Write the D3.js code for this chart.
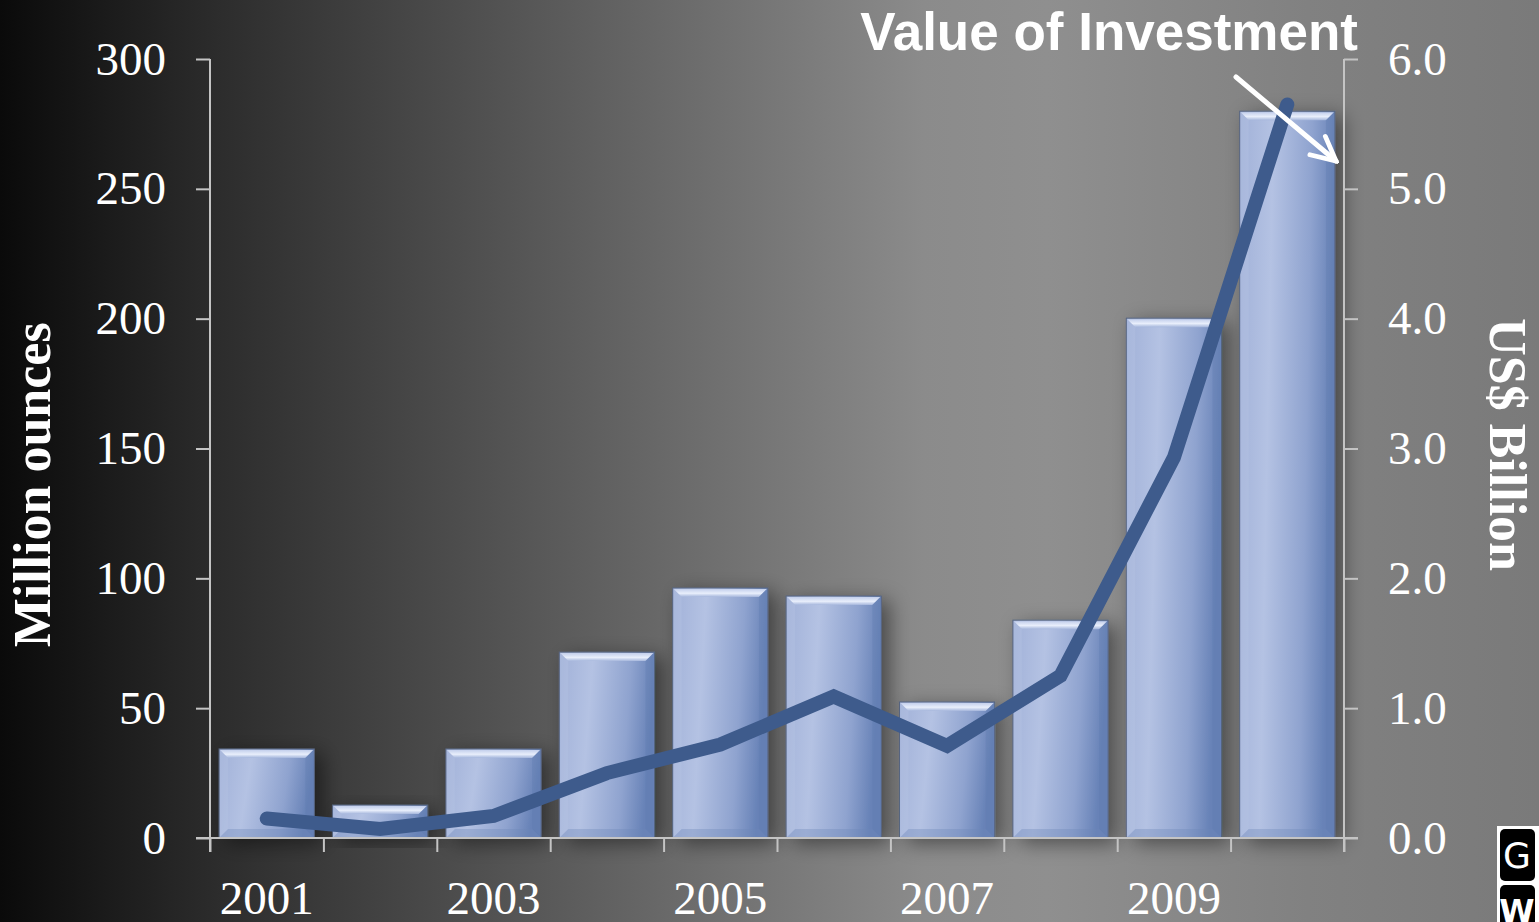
<!DOCTYPE html>
<html>
<head>
<meta charset="utf-8">
<script src="https://cdn.jsdelivr.net/npm/d3@7"></script>
<style>
  html, body { margin: 0; padding: 0; background: #555; }
  svg { display: block; }
</style>
</head>
<body>
<div id="chart"></div>
<script>
// chart data
const years = ["2001", "2002", "2003", "2004", "2005", "2006", "2007", "2008", "2009", "2010"];
const ounces = [34.3, 12.7, 34.3, 71.6, 96.3, 93.2, 52.4, 83.9, 200.2, 279.9];   // million ounces (bars)
const valueBn = [0.15, 0.07, 0.17, 0.50, 0.72, 1.09, 0.71, 1.25, 2.93, 5.65];   // US$ billion (line)
const leftTicks = [0, 50, 100, 150, 200, 250, 300];
const rightTicks = [0, 1, 2, 3, 4, 5, 6];
const yearLabels = ["2001", "2003", "2005", "2007", "2009"];

const width = 1539;
const height = 922;
const margin = { top: 59, right: 195, bottom: 84, left: 210 };

const svg = d3.select("#chart")
  .append("svg")
  .attr("width", width)
  .attr("height", height);

const defs = svg.append("defs");

// background gradient, dark on the left, grey on the right
const bg = defs.append("linearGradient").attr("id", "bg");
[[0, "#0a0a0a"], [0.07, "#1b1b1b"], [0.14, "#2c2c2c"], [0.35, "#585858"], [0.6, "#8b8b8b"],
 [0.68, "#8f8f8f"], [0.85, "#818181"], [1, "#7a7a7a"]].forEach(function(s) {
  bg.append("stop").attr("offset", s[0]).attr("stop-color", s[1]);
});

// bar body gradient
const barGrad = defs.append("linearGradient").attr("id", "barGrad")
  .attr("x1", 0).attr("y1", 0).attr("x2", 1).attr("y2", 0.15);
[[0, "#a1b1d8"], [0.35, "#b4c2e3"], [0.75, "#8fa3cf"], [1, "#6782b7"]].forEach(function(s) {
  barGrad.append("stop").attr("offset", s[0]).attr("stop-color", s[1]);
});

const topGrad = defs.append("linearGradient").attr("id", "topGrad")
  .attr("x1", 0).attr("y1", 0).attr("x2", 0).attr("y2", 1);
topGrad.append("stop").attr("offset", 0).attr("stop-color", "#c3cfec");
topGrad.append("stop").attr("offset", 0.55).attr("stop-color", "#e8eefb");
topGrad.append("stop").attr("offset", 1).attr("stop-color", "#a5b6dc");

// drop shadow behind the bars
const shadow = defs.append("filter").attr("id", "shadow")
  .attr("x", "-30%").attr("y", "-30%").attr("width", "160%").attr("height", "160%");
shadow.append("feDropShadow")
  .attr("dx", 8).attr("dy", 5)
  .attr("stdDeviation", 10)
  .attr("flood-color", "#000")
  .attr("flood-opacity", 0.45);

// arrow head for the annotation
defs.append("marker")
  .attr("id", "arrow")
  .attr("viewBox", "0 0 10 10")
  .attr("refX", 9).attr("refY", 5)
  .attr("markerWidth", 6).attr("markerHeight", 6)
  .attr("markerUnits", "strokeWidth")
  .attr("orient", "auto")
  .append("path")
  .attr("d", "M1,1 L9,5 L1,9")
  .attr("fill", "none")
  .attr("stroke", "white")
  .attr("stroke-width", 1.6)
  .attr("stroke-linecap", "round");

svg.append("rect")
  .attr("width", width)
  .attr("height", height)
  .attr("fill", "url(#bg)");

// scales
const x = d3.scaleBand()
  .domain(years)
  .range([margin.left, width - margin.right])
  .paddingInner(0.16)
  .paddingOuter(0.08);

const xEdge = d3.scaleLinear()
  .domain([0, years.length])
  .range([margin.left, width - margin.right]);

const yLeft = d3.scaleLinear()
  .domain([0, 300])
  .range([height - margin.bottom, margin.top]);

const yRight = d3.scaleLinear()
  .domain([0, 6])
  .range([height - margin.bottom, margin.top]);

const tickLen = 14;
const axisColor = "#c4c4c4";
const serif = "'Liberation Serif', 'DejaVu Serif', serif";

// bars
const bw = x.bandwidth();
const bev = 9;
const bars = svg.append("g").selectAll("g")
  .data(years)
  .enter()
  .append("g");

bars.append("rect")
  .attr("x", function(d) { return x(d); })
  .attr("y", function(d, i) { return yLeft(ounces[i]); })
  .attr("width", bw)
  .attr("height", function(d, i) { return yLeft(0) - yLeft(ounces[i]); })
  .attr("fill", "url(#barGrad)")
  .attr("stroke", "#56647f")
  .attr("stroke-width", 1)
  .attr("filter", "url(#shadow)");

// bevel: top highlight
bars.append("polygon")
  .attr("points", function(d, i) {
    const x0 = x(d), y0 = yLeft(ounces[i]);
    return [[x0 + 1, y0 + 1], [x0 + bw - 1, y0 + 1], [x0 + bw - bev, y0 + bev], [x0 + bev, y0 + bev]].join(" ");
  })
  .attr("fill", "url(#topGrad)");

// bevel: right edge shade
bars.append("polygon")
  .attr("points", function(d, i) {
    const x0 = x(d), y0 = yLeft(ounces[i]), y1 = yLeft(0);
    return [[x0 + bw - 1, y0 + 1], [x0 + bw - 1, y1 - 1], [x0 + bw - bev, y1 - bev], [x0 + bw - bev, y0 + bev]].join(" ");
  })
  .attr("fill", "#5f7bb0")
  .attr("opacity", 0.35);

// bevel: left edge
bars.append("polygon")
  .attr("points", function(d, i) {
    const x0 = x(d), y0 = yLeft(ounces[i]), y1 = yLeft(0);
    return [[x0 + 1, y0 + 1], [x0 + bev, y0 + bev], [x0 + bev, y1 - bev], [x0 + 1, y1 - 1]].join(" ");
  })
  .attr("fill", "#b9c6e6")
  .attr("opacity", 0.3);

// bevel: bottom edge
bars.append("polygon")
  .attr("points", function(d, i) {
    const x0 = x(d), y1 = yLeft(0);
    return [[x0 + 1, y1 - 1], [x0 + bev, y1 - bev], [x0 + bw - bev, y1 - bev], [x0 + bw - 1, y1 - 1]].join(" ");
  })
  .attr("fill", "#6e87b8")
  .attr("opacity", 0.35);

// left axis
const leftAxis = svg.append("g")
  .attr("transform", "translate(" + margin.left + ",0)")
  .call(d3.axisLeft(yLeft).tickValues(leftTicks).tickSize(tickLen).tickSizeOuter(0).tickPadding(30));

// right axis
const rightAxis = svg.append("g")
  .attr("transform", "translate(" + (width - margin.right) + ",0)")
  .call(d3.axisRight(yRight).tickValues(rightTicks).tickSize(tickLen).tickSizeOuter(0).tickPadding(30)
    .tickFormat(d3.format(".1f")));

// bottom axis with ticks on the band edges
const bottomAxis = svg.append("g")
  .attr("transform", "translate(0," + yLeft(0) + ")")
  .call(d3.axisBottom(xEdge).ticks(years.length).tickSize(tickLen).tickSizeOuter(0).tickFormat(""));

[leftAxis, rightAxis, bottomAxis].forEach(function(g) {
  g.selectAll("path.domain").attr("stroke", axisColor).attr("stroke-width", 2);
  g.selectAll(".tick line").attr("stroke", axisColor).attr("stroke-width", 2);
  g.selectAll(".tick text")
    .attr("fill", "white")
    .style("font-family", serif)
    .style("font-size", "47px");
});

// extend the base line past both vertical axes, and drop the verticals to the tick ends
bottomAxis.select("path.domain")
  .attr("d", "M" + (xEdge(0) - tickLen) + ",0H" + (xEdge(years.length) + tickLen));
leftAxis.select("path.domain")
  .attr("d", "M0," + yLeft(300) + "V" + (yLeft(0) + tickLen));
rightAxis.select("path.domain")
  .attr("d", "M0," + yRight(6) + "V" + (yRight(0) + tickLen));

// year labels under every second band
svg.append("g").selectAll("text")
  .data(yearLabels)
  .enter()
  .append("text")
  .attr("x", function(d) { return x(d) + bw / 2; })
  .attr("y", yLeft(0) + 76)
  .attr("text-anchor", "middle")
  .attr("fill", "white")
  .style("font-family", serif)
  .style("font-size", "47px")
  .text(function(d) { return d; });

// value line
const line = d3.line()
  .x(function(d, i) { return x(years[i]) + bw / 2; })
  .y(function(d) { return yRight(d); });

svg.append("path")
  .datum(valueBn)
  .attr("d", line)
  .attr("fill", "none")
  .attr("stroke", "#3e5b8c")
  .attr("stroke-width", 14)
  .attr("stroke-linecap", "round")
  .attr("stroke-linejoin", "miter");

// axis titles
svg.append("text")
  .attr("transform", "translate(50," + yLeft(136) + ") rotate(-90)")
  .attr("text-anchor", "middle")
  .attr("fill", "white")
  .style("font-family", serif)
  .style("font-weight", "bold")
  .style("font-size", "52px")
  .text("Million ounces");

svg.append("text")
  .attr("transform", "translate(1490," + yRight(3.03) + ") rotate(90)")
  .attr("text-anchor", "middle")
  .attr("fill", "white")
  .style("font-family", serif)
  .style("font-weight", "bold")
  .style("font-size", "52px")
  .text("US$ Billion");

// annotation
svg.append("text")
  .attr("x", 1358)
  .attr("y", 50)
  .attr("text-anchor", "end")
  .attr("fill", "white")
  .style("font-family", "'Liberation Sans', Arial, sans-serif")
  .style("font-weight", "bold")
  .style("font-size", "53px")
  .text("Value of Investment");

svg.append("line")
  .attr("x1", 1236).attr("y1", 77)
  .attr("x2", 1336).attr("y2", 161)
  .attr("stroke", "white")
  .attr("stroke-width", 5)
  .attr("stroke-linecap", "round")
  .attr("marker-end", "url(#arrow)");

// small logo in the corner
const logo = svg.append("g");
logo.append("rect").attr("x", 1497).attr("y", 826).attr("width", 42).attr("height", 96).attr("fill", "white");
logo.append("rect").attr("x", 1500).attr("y", 829).attr("width", 35).attr("height", 52).attr("rx", 5).attr("fill", "black");
logo.append("rect").attr("x", 1500).attr("y", 885).attr("width", 35).attr("height", 45).attr("rx", 5).attr("fill", "black");
logo.append("text")
  .attr("x", 1517).attr("y", 868)
  .attr("text-anchor", "middle")
  .attr("fill", "white")
  .style("font-family", "'DejaVu Sans', sans-serif")
  .style("font-size", "36px")
  .text("G");
logo.append("text")
  .attr("x", 1517).attr("y", 922)
  .attr("text-anchor", "middle")
  .attr("fill", "white")
  .style("font-family", "'DejaVu Sans', sans-serif")
  .style("font-weight", "bold")
  .style("font-size", "32px")
  .text("W");
</script>
</body>
</html>
